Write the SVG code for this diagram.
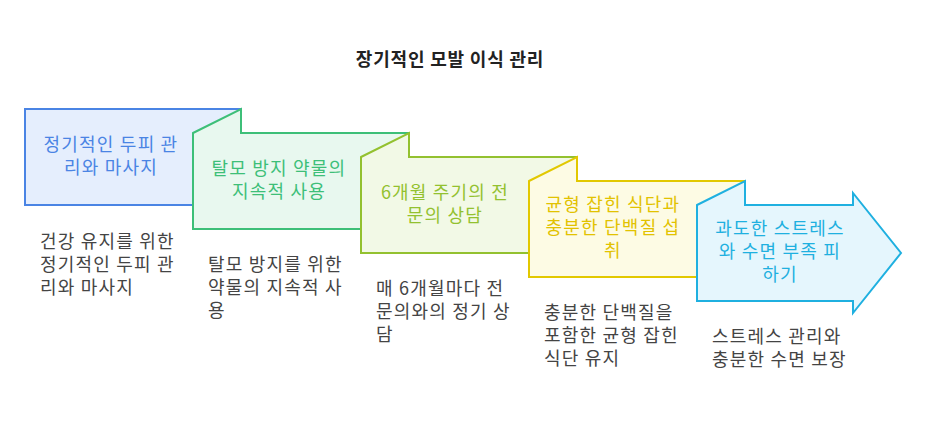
<svg xmlns="http://www.w3.org/2000/svg" width="927" height="422" viewBox="0 0 927 422">
<style>
text{font-family:"Noto Sans CJK KR","Noto Sans",sans-serif;font-size:18px;letter-spacing:1.2px}
.t{text-anchor:middle}
.d{fill:#444}
.s{stroke-width:2}
</style>
<rect width="927" height="422" fill="#fff"/>
<text x="450" y="66" class="t" style="font-weight:bold;font-size:18px;letter-spacing:0.8px" fill="#222">장기적인 모발 이식 관리</text>
<g id="n1">
<path d="M25 109H241V205H25Z" fill="#e5eefd" stroke="#4a84e4" class="s"/>
<text x="111" y="151" class="t" fill="#4a84e4">정기적인 두피 관</text>
<text x="111" y="174" class="t" fill="#4a84e4">리와 마사지</text>
<text x="40" y="248" class="d">건강 유지를 위한</text>
<text x="40" y="271" class="d">정기적인 두피 관</text>
<text x="40" y="294" class="d">리와 마사지</text>
</g>
<g id="n2">
<path d="M193 133L241 109V133H409V229H193Z" fill="#e8f8ef" stroke="#3dbf78" class="s"/>
<text x="279" y="175" class="t" fill="#3dbf78">탈모 방지 약물의</text>
<text x="279" y="198" class="t" fill="#3dbf78">지속적 사용</text>
<text x="208" y="271" class="d">탈모 방지를 위한</text>
<text x="208" y="294" class="d">약물의 지속적 사</text>
<text x="208" y="317" class="d">용</text>
</g>
<g id="n3">
<path d="M361 157L409 133V157H577V253H361Z" fill="#f2f9e6" stroke="#93c12f" class="s"/>
<text x="445" y="199" class="t" fill="#93c12f">6개월 주기의 전</text>
<text x="445" y="222" class="t" fill="#93c12f">문의 상담</text>
<text x="376" y="295" class="d">매 6개월마다 전</text>
<text x="376" y="318" class="d">문의와의 정기 상</text>
<text x="376" y="341" class="d">담</text>
</g>
<g id="n4">
<path d="M529 181L577 157V181H745V277H529Z" fill="#fdfbe4" stroke="#e2c800" class="s"/>
<text x="613" y="211" class="t" fill="#e2c200">균형 잡힌 식단과</text>
<text x="613" y="234" class="t" fill="#e2c200">충분한 단백질 섭</text>
<text x="613" y="257" class="t" fill="#e2c200">취</text>
<text x="544" y="319" class="d">충분한 단백질을</text>
<text x="544" y="342" class="d">포함한 균형 잡힌</text>
<text x="544" y="365" class="d">식단 유지</text>
</g>
<g id="n5">
<path d="M697 205L745 181V205H853V193L901 253L853 313V301H697Z" fill="#e5f6fd" stroke="#1fb0e0" class="s"/>
<text x="780" y="235" class="t" fill="#1fb0e0">과도한 스트레스</text>
<text x="780" y="258" class="t" fill="#1fb0e0">와 수면 부족 피</text>
<text x="780" y="281" class="t" fill="#1fb0e0">하기</text>
<text x="712" y="343" class="d">스트레스 관리와</text>
<text x="712" y="366" class="d">충분한 수면 보장</text>
</g>
<g id="connectors"></g>
</svg>
